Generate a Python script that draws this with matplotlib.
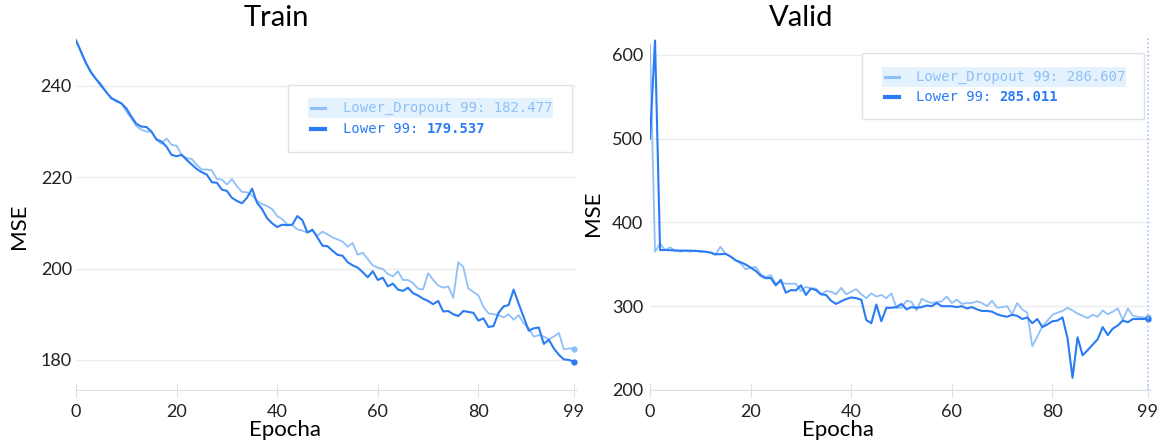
import numpy as np
import matplotlib
matplotlib.use("Agg")
import matplotlib.pyplot as plt
from matplotlib.patches import Rectangle

# MSE per epoch for the two runs
epochs = np.arange(100)

train_lower = [250.0, 247.5, 245.0, 243.0, 241.5, 240.0, 238.7, 237.3, 236.8, 236.2,
               235.1, 233.3, 231.7, 231.1, 231.0, 230.0, 228.3, 227.8, 226.7, 224.9,
               224.6, 224.9, 223.8, 222.8, 221.8, 221.1, 220.6, 218.9, 218.8, 217.3,
               217.0, 215.5, 214.8, 214.3, 215.5, 217.5, 214.4, 213.0, 211.0, 209.9,
               209.1, 209.6, 209.5, 209.6, 211.5, 210.6, 207.9, 208.5, 206.8, 205.0,
               204.9, 203.9, 203.0, 202.8, 201.4, 200.7, 200.2, 199.2, 198.1, 199.4,
               197.5, 198.0, 196.1, 196.7, 195.4, 195.1, 195.8, 194.6, 194.1, 193.4,
               192.9, 192.2, 192.9, 190.6, 190.7, 190.0, 189.6, 190.7, 190.5, 190.3,
               188.6, 189.1, 187.2, 187.4, 190.3, 191.7, 192.0, 195.4, 192.3, 189.4,
               186.4, 186.9, 187.1, 183.5, 184.4, 182.5, 181.1, 180.1, 180.0, 179.537]

train_dropout = [250.0, 247.3, 244.8, 242.8, 241.4, 240.5, 238.6, 237.5, 236.5, 236.2,
                 234.4, 232.9, 231.2, 230.4, 230.0, 230.0, 228.2, 227.3, 228.5, 227.1,
                 226.9, 224.9, 224.2, 224.0, 222.7, 221.7, 221.7, 221.5, 219.6, 219.5,
                 218.4, 219.6, 218.0, 216.8, 216.7, 216.0, 214.8, 214.1, 213.7, 213.0,
                 211.5, 210.8, 209.7, 209.5, 208.6, 208.3, 207.9, 208.3, 207.2, 208.1,
                 207.5, 206.8, 206.4, 205.9, 204.8, 205.6, 203.0, 203.5, 202.1, 200.7,
                 200.2, 199.9, 198.8, 198.3, 199.4, 197.5, 197.5, 196.8, 195.6, 195.4,
                 199.0, 197.5, 196.3, 195.8, 196.1, 193.6, 201.4, 200.3, 195.6, 194.9,
                 194.1, 191.6, 190.2, 190.0, 189.8, 189.3, 190.0, 188.8, 189.8, 188.0,
                 186.9, 185.1, 185.4, 185.1, 184.5, 185.1, 185.9, 182.3, 182.5, 182.477]

valid_lower = [500.0, 617.0, 367.0, 367.0, 366.8, 366.5, 366.3, 366.3, 366.3, 366.0,
               365.5, 365.0, 364.0, 362.0, 362.0, 362.5, 359.4, 354.8, 352.5, 349.8,
               346.0, 342.2, 336.4, 333.3, 333.7, 324.9, 331.4, 316.1, 319.2, 318.8,
               324.9, 313.4, 321.1, 319.2, 314.2, 313.4, 306.5, 302.7, 305.8, 308.5,
               310.4, 309.6, 307.7, 283.5, 279.7, 301.9, 282.0, 298.1, 298.1, 298.9,
               302.7, 296.2, 298.9, 298.1, 298.9, 300.8, 300.0, 303.8, 300.0, 300.0,
               300.0, 298.9, 300.0, 297.3, 298.9, 296.2, 294.3, 294.3, 293.5, 290.4,
               288.5, 287.4, 289.7, 288.5, 284.7, 286.6, 279.7, 284.7, 275.1, 278.2,
               282.0, 282.8, 286.6, 262.0, 214.6, 262.9, 241.4, 247.5, 254.1, 260.6,
               275.1, 265.5, 273.2, 277.0, 282.8, 280.9, 284.7, 284.7, 284.7, 285.011]

valid_dropout = [612.0, 365.0, 374.7, 367.0, 370.1, 366.3, 365.1, 366.3, 365.0, 366.3,
                 365.0, 365.0, 364.0, 361.3, 370.9, 362.5, 359.0, 355.0, 351.0, 344.0,
                 346.0, 346.7, 338.3, 334.5, 337.2, 326.8, 328.8, 326.8, 326.8, 326.8,
                 318.0, 323.0, 321.1, 321.1, 314.2, 318.0, 317.3, 314.2, 321.9, 314.2,
                 317.3, 320.3, 314.2, 309.6, 315.3, 311.5, 313.4, 309.6, 315.3, 298.1,
                 298.1, 306.6, 305.0, 295.0, 308.8, 305.8, 303.8, 305.0, 305.8, 311.5,
                 303.8, 307.7, 302.7, 303.8, 303.8, 305.8, 303.8, 300.0, 306.5, 298.1,
                 298.9, 300.0, 290.4, 303.8, 296.2, 292.3, 252.1, 263.6, 275.9, 282.8,
                 289.7, 292.3, 294.3, 298.1, 295.0, 291.2, 288.5, 285.8, 289.7, 287.4,
                 295.0, 290.4, 293.5, 297.3, 283.5, 297.3, 288.5, 287.4, 286.6, 286.607]

DARK = "#2a7bf4"
LIGHT = "#8fc0f8"
GRID = "#ececec"
W, H = 1164, 441

fig = plt.figure(figsize=(W / 100, H / 100), dpi=100)
fig.patch.set_facecolor("white")


def fx(x):
    return x / W


def fy(y):
    return 1 - y / H


def panel(left_px, dropout, lower, ylim, yticks, ypad):
    ax = fig.add_axes([fx(left_px), fy(390), 501 / W, 352 / H])
    ax.plot(epochs, dropout, color=LIGHT, lw=1.3, marker="o", ms=3.5, markevery=[-1])
    ax.plot(epochs, lower, color=DARK, lw=1.5, marker="o", ms=3.5, markevery=[-1])
    ax.set_xlim(0, 99.6)
    ax.set_ylim(*ylim)
    ax.set_xticks([0, 20, 40, 60, 80, 99])
    ax.set_yticks(yticks)
    for s in ["top", "right", "left"]:
        ax.spines[s].set_visible(False)
    ax.spines["bottom"].set_color("#e0e0e0")
    ax.yaxis.grid(True, color=GRID, lw=1)
    ax.set_axisbelow(True)
    ax.tick_params(axis="x", direction="inout", length=10, color="#e0e0e0",
                   labelsize=13, labelcolor="#222222", pad=5)
    ax.tick_params(axis="y", length=0, labelsize=13, labelcolor="#222222", pad=ypad)
    for lab in ax.get_xticklabels() + ax.get_yticklabels():
        lab.set_family("Lato")
    return ax


ax_train = panel(76, train_dropout, train_lower, (173.4, 250.5), [180, 200, 220, 240], 3)
ax_valid = panel(650, valid_dropout, valid_lower, (200, 620), [200, 300, 400, 500, 600], 5)

# hover marker line on the validation chart
ax_valid.axvline(99, color="#9ccaf5", lw=1.2, ls=(0, (1, 1.5)))

# titles and axis names
fig.text(fx(276), fy(18), "Train", ha="center", va="center", fontsize=21, family="Lato")
fig.text(fx(801), fy(18), "Valid", ha="center", va="center", fontsize=21, family="Lato")
fig.text(fx(19), fy(226), "MSE", ha="center", va="center", rotation=90, fontsize=16, family="Lato")
fig.text(fx(593), fy(213), "MSE", ha="center", va="center", rotation=90, fontsize=16, family="Lato")
fig.text(fx(285), fy(430), "Epocha", ha="center", va="center", fontsize=16, family="Lato")
fig.text(fx(838), fy(430), "Epocha", ha="center", va="center", fontsize=16, family="Lato")

CHAR = 8.36  # DejaVu Sans Mono advance at 10pt, 100 dpi


def legend(box, hl, dash_x, text_x, row_y, dropout_val, lower_val):
    x0, y0, x1, y1 = box
    fig.add_artist(Rectangle((fx(x0), fy(y1)), (x1 - x0) / W, (y1 - y0) / H,
                             transform=fig.transFigure, facecolor="white",
                             edgecolor="#e2e2e2", lw=1, zorder=5))
    hx0, hx1 = hl
    fig.add_artist(Rectangle((fx(hx0), fy(row_y[0] + 10)), (hx1 - hx0) / W, 20 / H,
                             transform=fig.transFigure, facecolor="#e4f2fe",
                             edgecolor="none", zorder=6))
    for y, col, lw in [(row_y[0], LIGHT, 2.2), (row_y[1], DARK, 3)]:
        fig.add_artist(plt.Line2D([fx(dash_x), fx(dash_x + 14)], [fy(y), fy(y)],
                                  transform=fig.transFigure, color=col, lw=lw, zorder=7))
    fig.text(fx(text_x), fy(row_y[0]), f"Lower_Dropout 99: {dropout_val:.3f}",
             ha="left", va="center", fontsize=10, family="DejaVu Sans Mono",
             color=LIGHT, zorder=7)
    head = "Lower 99: "
    fig.text(fx(text_x), fy(row_y[1]), head, ha="left", va="center", fontsize=10,
             family="DejaVu Sans Mono", color=DARK, zorder=7)
    fig.text(fx(text_x + CHAR * len(head)), fy(row_y[1]), f"{lower_val:.3f}",
             ha="left", va="center", fontsize=10, family="DejaVu Sans Mono",
             weight="bold", color=DARK, zorder=7)


legend((288, 85, 572, 152), (308, 553), 311, 343, (108, 129),
       train_dropout[-1], train_lower[-1])
legend((862, 53, 1144, 119), (882, 1126), 885, 916, (77, 97),
       valid_dropout[-1], valid_lower[-1])

fig.savefig("out.png", dpi=100)
